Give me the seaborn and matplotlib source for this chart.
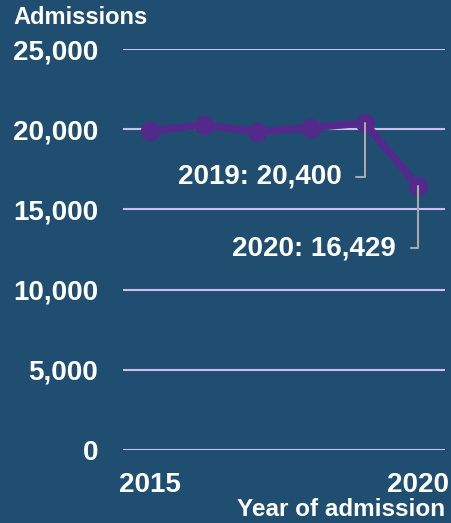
import matplotlib
matplotlib.use("Agg")
import matplotlib.pyplot as plt
import seaborn as sns
import pandas as pd
from matplotlib.ticker import FuncFormatter

years = [2015, 2016, 2017, 2018, 2019, 2020]
admissions = [19900, 20250, 19850, 20100, 20400, 16429]
y_ticks = [0, 5000, 10000, 15000, 20000, 25000]
x_ticks = [2015, 2020]
callouts = {2019: "2019: 20,400", 2020: "2020: 16,429"}

BG = "#1F4E71"
LINE = "#532A8C"
GRID = "#CDBFEA"
LEAD = "#A8A8A8"

sns.set_theme(style="white")
plt.rcParams["font.family"] = ["Liberation Sans", "DejaVu Sans"]
plt.rcParams["font.weight"] = "bold"

df = pd.DataFrame({"year": years, "admissions": admissions})

W, H = 452, 523
fig = plt.figure(figsize=(W / 100, H / 100), dpi=100, facecolor=BG)
ax = fig.add_axes([123 / W, 1 - 450 / H, (445 - 123) / W, (450 - 49) / H])
ax.set_facecolor(BG)

for t in y_ticks:
    ax.axhline(t, color=GRID, lw=1.5, zorder=1)

sns.lineplot(data=df, x="year", y="admissions", ax=ax, color=LINE, lw=5.5,
             marker="o", markersize=14, markeredgewidth=0, zorder=2, clip_on=False)

ax.set_xlim(2014.5, 2020.5)
ax.set_ylim(0, 25000)
ax.set_yticks(y_ticks)
ax.set_xticks(x_ticks)
ax.yaxis.set_major_formatter(FuncFormatter(lambda v, p: f"{int(v):,}"))
ax.tick_params(axis="y", length=0, pad=18, labelsize=20, labelcolor="white")
ax.tick_params(axis="x", length=0, pad=16, labelsize=20, labelcolor="white")
for lab in ax.get_xticklabels() + ax.get_yticklabels():
    lab.set_fontweight("bold")
for s in ax.spines.values():
    s.set_visible(False)
ax.set_xlabel("")
ax.set_ylabel("")

offsets = {2019: (-23, -54), 2020: (-22, -62)}
for yr, txt in callouts.items():
    val = admissions[years.index(yr)]
    ax.annotate(txt, xy=(yr, val), xytext=offsets[yr], textcoords="offset pixels",
                ha="right", va="center", fontsize=20, fontweight="bold", color="white",
                arrowprops=dict(arrowstyle="-", color=LEAD, lw=1.5,
                                connectionstyle="angle,angleA=0,angleB=90,rad=0",
                                shrinkA=8, shrinkB=0),
                zorder=4)

fig.text(13 / W, 1 - 17 / H, "Admissions", ha="left", va="center",
         fontsize=17, fontweight="bold", color="white")
fig.text(445 / W, 1 - 510 / H, "Year of admission", ha="right", va="center",
         fontsize=17.5, fontweight="bold", color="white")

fig.savefig("out.png", dpi=100, facecolor=BG)
